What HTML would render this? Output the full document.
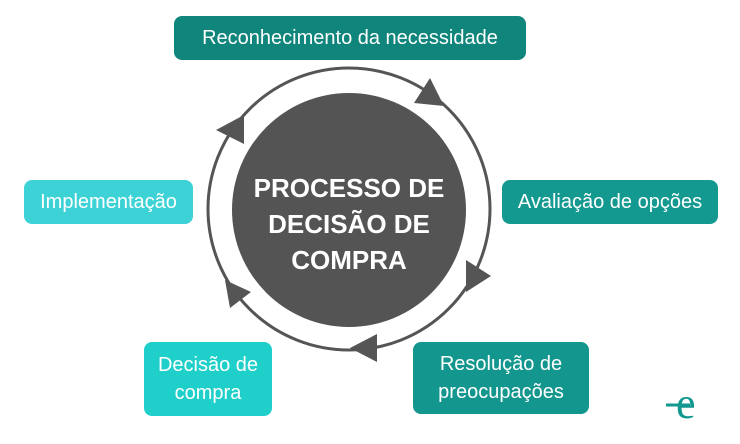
<!DOCTYPE html>
<html><head><meta charset="utf-8"><style>
body{margin:0;width:740px;height:444px;background:#fff;position:relative;overflow:hidden;font-family:"Liberation Sans",sans-serif}
.b{position:absolute;color:#fff;font-size:20px;border-radius:8px;display:flex;align-items:center;justify-content:center;text-align:center;line-height:28px}
</style></head><body>
<svg width="740" height="444" style="position:absolute;left:0;top:0">
<circle cx="349" cy="209" r="141" fill="none" stroke="#555" stroke-width="3"/>
<circle cx="349" cy="210" r="117" fill="#545454"/>
<g fill="#555">
<polygon points="430,78 444,106 414,103"/>
<polygon points="466,260 491,276 466,292"/>
<polygon points="377,334 377,362 350,348"/>
<polygon points="225,280 251,292 230,308"/>
<polygon points="244,115 244,144 216,130"/>
</g>
<text x="349" y="197" text-anchor="middle" fill="#fff" font-family="Liberation Sans" font-weight="bold" font-size="26">PROCESSO DE</text>
<text x="349" y="233" text-anchor="middle" fill="#fff" font-family="Liberation Sans" font-weight="bold" font-size="26">DECISÃO DE</text>
<text x="349" y="269" text-anchor="middle" fill="#fff" font-family="Liberation Sans" font-weight="bold" font-size="26">COMPRA</text>
<path d="M666 405 H690" stroke="#139890" stroke-width="3"/>
<text x="676" y="418" fill="#139890" font-family="Liberation Serif" font-size="44">e</text>
</svg>
<div class="b" style="left:174px;top:16px;width:352px;height:44px;background:#10857c">Reconhecimento da necessidade</div>
<div class="b" style="left:502px;top:180px;width:216px;height:44px;background:#139990">Avaliação de opções</div>
<div class="b" style="left:413px;top:342px;width:176px;height:72px;background:#13968d">Resolução de<br>preocupações</div>
<div class="b" style="left:144px;top:342px;width:128px;height:74px;background:#1fcfc9">Decisão de<br>compra</div>
<div class="b" style="left:24px;top:180px;width:169px;height:44px;background:#3dd2d5">Implementação</div>
</body></html>
